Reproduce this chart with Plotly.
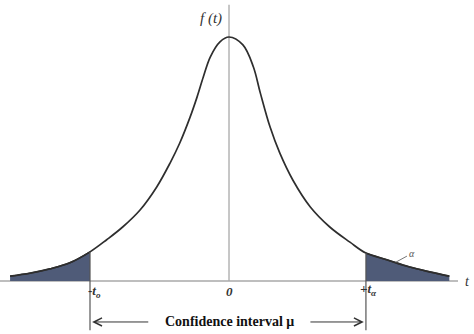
import plotly.graph_objects as go

# t values and density values
t_vals = [-3.15, -2.86, -2.58, -2.29, -2.00, -1.76, -1.53, -1.28, -1.04, -0.85, -0.71,
          -0.56, -0.46, -0.37, -0.27, -0.13, 0.00, 0.20, 0.35, 0.45, 0.59,
          0.73, 0.92, 1.17, 1.45, 1.74, 1.97, 2.27, 2.60, 2.89, 3.17]
f_vals = [0.008, 0.013, 0.020, 0.030, 0.048, 0.068, 0.089, 0.117, 0.155, 0.194, 0.227,
          0.270, 0.303, 0.336, 0.369, 0.394, 0.402, 0.389, 0.353, 0.310, 0.254,
          0.211, 0.166, 0.122, 0.089, 0.064, 0.046, 0.035, 0.023, 0.015, 0.008]
t_crit_left = -2.00
t_crit_right = 1.97

left_t = [t for t in t_vals if t <= t_crit_left]
left_f = [f for t, f in zip(t_vals, f_vals) if t <= t_crit_left]
right_t = [t for t in t_vals if t >= t_crit_right]
right_f = [f for t, f in zip(t_vals, f_vals) if t >= t_crit_right]
f_left_crit = left_f[-1]
f_right_crit = right_f[0]

shade = "#4f5b78"
fig = go.Figure()
fig.add_trace(go.Scatter(x=left_t, y=left_f, fill="tozeroy", fillcolor=shade,
                         mode="lines", line=dict(color="#2e2e2e", width=1.5, shape="spline"),
                         hoverinfo="skip"))
fig.add_trace(go.Scatter(x=right_t, y=right_f, fill="tozeroy", fillcolor=shade,
                         mode="lines", line=dict(color="#2e2e2e", width=1.5, shape="spline"),
                         hoverinfo="skip"))
fig.add_trace(go.Scatter(x=t_vals, y=f_vals, mode="lines",
                         line=dict(color="#2e2e2e", width=1.7, shape="spline", smoothing=1.0),
                         hoverinfo="skip"))

axis_gray = "#a8a8a8"
shapes = [
    dict(type="line", x0=-3.295, x1=3.295, y0=0, y1=0, line=dict(color=axis_gray, width=1.3), layer="below"),
    dict(type="line", x0=0, x1=0, y0=0, y1=0.455, line=dict(color=axis_gray, width=1.3), layer="below"),
    dict(type="line", x0=t_crit_left, x1=t_crit_left, y0=f_left_crit, y1=-0.081, line=dict(color="#555555", width=1.2)),
    dict(type="line", x0=t_crit_right, x1=t_crit_right, y0=f_right_crit, y1=-0.081, line=dict(color="#555555", width=1.2)),
    dict(type="line", x0=2.4, x1=2.56, y0=0.031, y1=0.041, line=dict(color="#777777", width=1)),
]

serif = "Liberation Serif"
ann = [
    dict(x=0, y=0.432, text="<i>f (t)</i>", showarrow=False, xanchor="right", xshift=-5,
         font=dict(family=serif, size=15, color="#333333")),
    dict(x=t_crit_left, y=-0.018, text="<b>-<i>t<sub>o</sub></i></b>", showarrow=False, xanchor="left", xshift=-4,
         font=dict(family=serif, size=13, color="#333333")),
    dict(x=0, y=-0.018, text="<b><i>0</i></b>", showarrow=False,
         font=dict(family=serif, size=13, color="#333333")),
    dict(x=t_crit_right, y=-0.014, text="<b><i>+t<sub>\u03b1</sub></i></b>", showarrow=False, xanchor="center", xshift=3,
         font=dict(family=serif, size=13, color="#333333")),
    dict(x=3.36, y=0.0, text="<i>t</i>", showarrow=False, xanchor="left",
         font=dict(family=serif, size=14, color="#333333")),
    dict(x=2.63, y=0.045, text="<i>\u03b1</i>", showarrow=False,
         font=dict(family=serif, size=10, color="#555555")),
    dict(x=0.01, y=-0.0675, text="<b>Confidence interval \u03bc</b>", showarrow=False,
         font=dict(family=serif, size=14, color="#111111")),
    dict(x=t_crit_left + 0.03, y=-0.0675, ax=-1.14, ay=-0.0675, axref="x", ayref="y",
         xref="x", yref="y", text="", showarrow=True, arrowhead=5, arrowsize=1.6,
         arrowwidth=1, arrowcolor="#333333"),
    dict(x=t_crit_right - 0.03, y=-0.0675, ax=1.15, ay=-0.0675, axref="x", ayref="y",
         xref="x", yref="y", text="", showarrow=True, arrowhead=5, arrowsize=1.6,
         arrowwidth=1, arrowcolor="#333333"),
]

fig.update_layout(
    width=474, height=334, margin=dict(l=0, r=0, t=0, b=0),
    paper_bgcolor="white", plot_bgcolor="white", showlegend=False,
    xaxis=dict(range=[-3.295, 3.525], visible=False, fixedrange=True),
    yaxis=dict(range=[-0.0873, 0.463], visible=False, fixedrange=True),
    shapes=shapes, annotations=ann,
)
fig.write_html("out.html")
